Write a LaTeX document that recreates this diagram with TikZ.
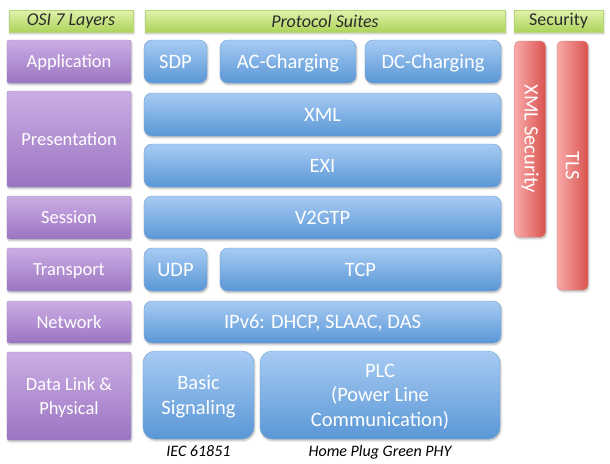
\documentclass[tikz,border=0pt]{standalone}
\usepackage{fontspec}
\setmainfont{Carlito}
\usepackage{tikz}
\usetikzlibrary{positioning, shadows.blur}
\definecolor{layertop}{HTML}{CBAEE4}
\definecolor{layerbot}{HTML}{9B74C1}
\definecolor{layerline}{HTML}{A387C6}
\definecolor{prototop}{HTML}{A7CBF3}
\definecolor{protobot}{HTML}{5A97D6}
\definecolor{protoline}{HTML}{6E9FD6}
\definecolor{sectop}{HTML}{F8AAA9}
\definecolor{secbot}{HTML}{D9534E}
\definecolor{secline}{HTML}{D9817E}
\definecolor{headtop}{HTML}{E0F2AC}
\definecolor{headbot}{HTML}{ADD35B}
\definecolor{headline}{HTML}{B5D577}
\definecolor{inktext}{HTML}{2B2B2B}

\tikzset{
  softshadow/.style={blur shadow={shadow blur steps=6, shadow xshift=0.8pt, shadow yshift=-1.6pt, shadow opacity=30}},
  head/.style={rectangle, draw=headline, top color=headtop, bottom color=headbot, softshadow,
    inner sep=0pt, minimum height=22pt, text=inktext, font=\fontsize{18}{18}\selectfont},
  layer/.style={rectangle, rounded corners=2pt, draw=layerline, top color=layertop, bottom color=layerbot, softshadow,
    inner sep=0pt, text depth=0pt, minimum width=124pt, text=white, align=center, font=\fontsize{18.5}{24}\selectfont},
  proto/.style={rectangle, rounded corners=8pt, draw=protoline, top color=prototop, bottom color=protobot, softshadow,
    inner sep=0pt, text depth=0pt, text=white, align=center, font=\fontsize{20.5}{24.5}\selectfont},
  secbar/.style={rectangle, rounded corners=5pt, draw=secline, left color=sectop, right color=secbot, softshadow,
    inner sep=0pt, minimum height=31pt, rotate=-90, text=white, font=\fontsize{20.5}{20.5}\selectfont},
  note/.style={text=black, font=\fontsize{16}{16}\selectfont\itshape}
}

\begin{document}
\begin{tikzpicture}[x=1pt, y=-1pt]
  \useasboundingbox (0,0) rectangle (610,463);

  % column headers
  \node[head, minimum width=124pt, font=\fontsize{18}{18}\selectfont\itshape] (osi) at (71,21) {OSI 7 Layers};
  \node[head, minimum width=360pt, font=\fontsize{18}{18}\selectfont\itshape] (suites) at (325,21) {Protocol Suites};
  \node[head, minimum width=89pt] (security) at (558.5,21) {Security};

  % OSI layers
  \node[layer, minimum height=43pt] (application) at (69,61.5) {Application};
  \node[layer, minimum height=96pt] (presentation) at (69,139) {Presentation};
  \node[layer, minimum height=43pt] (session) at (69,217.5) {Session};
  \node[layer, minimum height=43pt] (transport) at (69,269.5) {Transport};
  \node[layer, minimum height=42pt] (network) at (69,322) {Network};
  \node[layer, minimum height=88pt] (datalink) at (69,396) {Data Link \&\\Physical};

  % protocol suites
  \node[proto, minimum width=63pt, minimum height=43pt] (sdp) at (175.5,61.5) {SDP};
  \node[proto, minimum width=136pt, minimum height=43pt] (accharge) at (288,61.5) {AC-Charging};
  \node[proto, minimum width=136pt, minimum height=43pt] (dccharge) at (433,61.5) {DC-Charging};
  \node[proto, minimum width=357pt, minimum height=43pt] (xml) at (322.5,114.5) {XML};
  \node[proto, minimum width=357pt, minimum height=43pt] (exi) at (322.5,165.5) {EXI};
  \node[proto, minimum width=357pt, minimum height=43pt] (v2gtp) at (322.5,217.5) {V2GTP};
  \node[proto, minimum width=63pt, minimum height=43pt] (udp) at (175.5,269.5) {UDP};
  \node[proto, minimum width=281pt, minimum height=43pt] (tcp) at (360.5,269.5) {TCP};
  \node[proto, minimum width=357pt, minimum height=42pt] (ipv6) at (322.5,322) {IPv6: DHCP, SLAAC, DAS};
  \node[proto, rounded corners=12pt, minimum width=111pt, minimum height=88pt] (basic) at (198.5,395) {Basic\\Signaling};
  \node[proto, rounded corners=12pt, minimum width=240pt, minimum height=88pt] (plc) at (380,395) {PLC\\(Power Line\\Communication)};

  % security bars
  \node[secbar, minimum width=196pt] (xmlsec) at (530,139) {XML Security};
  \node[secbar, minimum width=249pt] (tls) at (572.5,165.5) {TLS};

  % standards below
  \node[note, below=3pt of basic.south, anchor=north] (iec) {IEC 61851};
  \node[note, below=3pt of plc.south, anchor=north] (homeplug) {Home Plug Green PHY};
\end{tikzpicture}
\end{document}
